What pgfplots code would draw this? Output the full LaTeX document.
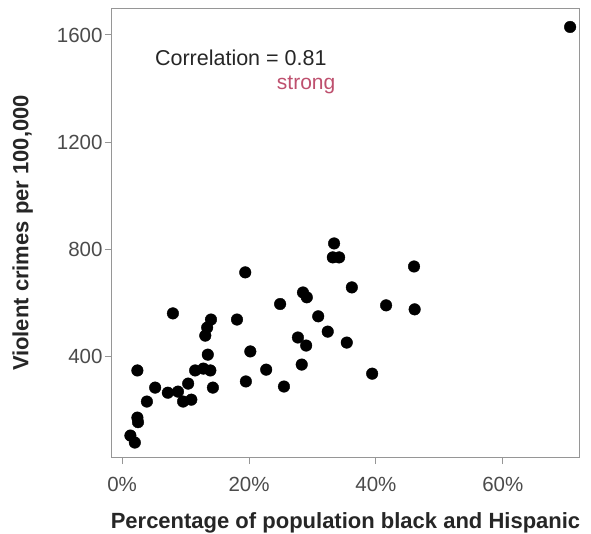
\documentclass[border=0pt]{standalone}
\usepackage{pgfplots}
\pgfplotsset{compat=1.18}
\usepackage{fontspec}
\setmainfont{Liberation Sans}
\usetikzlibrary{calc}
\definecolor{framegray}{RGB}{150,150,150}
\definecolor{ticktext}{RGB}{75,75,75}
\definecolor{strongcol}{RGB}{190,80,110}
\begin{document}
\begin{tikzpicture}
\begin{axis}[
  name=ax,
  scale only axis,
  width=467pt, height=448pt,
  xmin=-1.6, xmax=72,
  ymin=25, ymax=1697,
  axis line style={framegray, line width=1pt},
  xtick={0,20,40,60},
  xticklabels={0\%,20\%,40\%,60\%},
  ytick={400,800,1200,1600},
  tick align=outside,
  tick pos=left,
  major tick length=7pt,
  tick style={framegray, line width=1pt},
  ticklabel style={font=\fontsize{20.5}{22}\selectfont, text=ticktext},
  /pgf/number format/assume math mode=true,
  /pgf/number format/1000 sep={},
  xticklabel style={yshift=-10pt},
  yticklabel style={xshift=1pt},
  xlabel={\textbf{Percentage of population black and Hispanic}},
  ylabel={\textbf{Violent crimes per 100,000}},
  label style={font=\fontsize{22}{24}\selectfont, text=black!85},
  xlabel style={yshift=-14pt},
  ylabel style={yshift=17pt},
]
\addplot[only marks, mark=*, mark size=5.8pt, mark options={fill=black, draw=black}] table {
x y
70.6 1630
19.4 714
8.0 561
14.0 538
13.4 508
13.1 478
18.1 538
24.9 596
20.2 419
22.7 351
19.5 307
25.5 288
2.4 348
13.5 407
12.8 355
11.5 348
13.9 348
14.3 284
5.2 284
10.4 299
7.2 265
8.8 269
9.6 232
10.9 239
3.9 232
2.4 172
2.5 155
1.3 105
2.0 79
33.4 822
33.2 770
34.2 770
46.0 736
36.2 658
28.5 639
29.1 621
41.6 591
46.1 576
30.9 550
32.4 493
27.7 471
29.0 441
35.4 452
28.3 370
39.4 336
};
\node[anchor=center, text=black!85, font=\fontsize{21.5}{23}\selectfont] at (axis cs:18.7,1514) {Correlation = 0.81};
\node[anchor=center, text=strongcol, font=\fontsize{21}{23}\selectfont] at (axis cs:29,1413) {strong};
\end{axis}
\pgfresetboundingbox
\useasboundingbox ($(ax.south west)+(-112pt,-76pt)$) rectangle ($(ax.north east)+(12pt,9pt)$);
\end{tikzpicture}
\end{document}
